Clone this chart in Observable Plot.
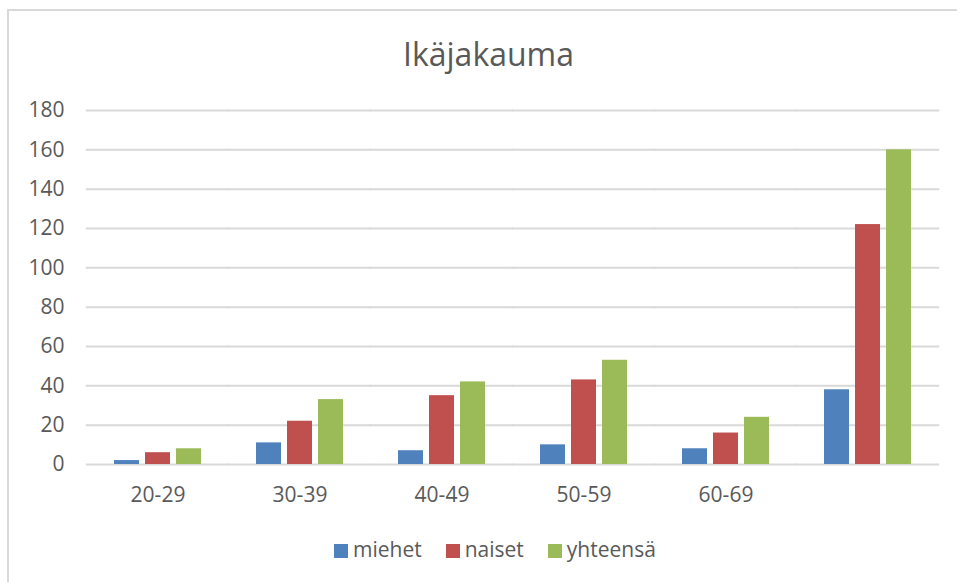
<!DOCTYPE html>
<html>
<head>
<meta charset="utf-8">
<script src="https://cdn.jsdelivr.net/npm/d3@7"></script>
<script src="https://cdn.jsdelivr.net/npm/@observablehq/plot@0.6"></script>
<style>
  html, body { margin: 0; padding: 0; background: #fff; }
  body { width: 957px; height: 582px; position: relative; overflow: hidden; font-family: "Open Sans", sans-serif; color: #595959; }
  #frame { position: absolute; left: 7px; top: 9px; width: 960px; height: 600px; border-left: 2.5px solid #d9d9d9; border-top: 2.5px solid #d9d9d9; box-sizing: border-box; }
  #title { position: absolute; left: 0; top: 38px; width: 977px; text-align: center; font-size: 32px; line-height: 32px; color: #595959; }
  #chart { position: absolute; left: 0; top: 90px; }
  #legend { position: absolute; left: 334px; top: 539px; display: flex; gap: 24px; font-size: 21px; line-height: 21px; color: #595959; }
  .item { display: flex; align-items: center; }
  .sw { width: 14px; height: 14px; margin-right: 5px; margin-top: 2px; }
</style>
</head>
<body>
<div id="frame"></div>
<div id="title">Ikäjakauma</div>
<div id="chart"></div>
<div id="legend"></div>
<script>
const groups = ["20-29", "30-39", "40-49", "50-59", "60-69", ""];
const series = ["miehet", "naiset", "yhteensä"];
const miehet = [2, 11, 7, 10, 8, 38];
const naiset = [6, 22, 35, 43, 16, 122];
const yhteensa = [8, 33, 42, 53, 24, 160];
const yTicks = [0, 20, 40, 60, 80, 100, 120, 140, 160, 180];
const colors = ["#4f81bd", "#c0504d", "#9bbb59"];

const valuesBySeries = [miehet, naiset, yhteensa];
const data = [];
groups.forEach((g, i) => {
  series.forEach((s, j) => data.push({group: g, series: s, value: valuesBySeries[j][i]}));
});

const chart = Plot.plot({
  width: 957,
  height: 420,
  marginLeft: 84,
  marginRight: 17,
  marginTop: 20,
  marginBottom: 46,
  style: {fontSize: "21px", fontFamily: "Open Sans, sans-serif", color: "#595959", background: "transparent"},
  fx: {domain: groups, paddingInner: 0.39, paddingOuter: 0.195, label: null, axis: null},
  x: {domain: series, paddingInner: 0.194, paddingOuter: 0, axis: null},
  y: {domain: [0, 180], axis: null},
  color: {domain: series, range: colors},
  marks: [
    Plot.ruleY(yTicks, {stroke: "#d9d9d9", strokeWidth: 2, insetLeft: -28.2, insetRight: -28.2}),
    Plot.axisY({ticks: yTicks, tickSize: 0, tickPadding: 50, label: null}),
    Plot.axisFx({anchor: "bottom", tickSize: 0, tickPadding: 23, label: null, tickFormat: d => d}),
    Plot.barY(data, {fx: "group", x: "series", y: "value", fill: "series"})
  ]
});
document.getElementById("chart").appendChild(chart);

const legend = document.getElementById("legend");
series.forEach((s, i) => {
  const item = document.createElement("div");
  item.className = "item";
  const sw = document.createElement("div");
  sw.className = "sw";
  sw.style.background = colors[i];
  const t = document.createElement("span");
  t.textContent = s;
  item.appendChild(sw);
  item.appendChild(t);
  legend.appendChild(item);
});
</script>
</body>
</html>
